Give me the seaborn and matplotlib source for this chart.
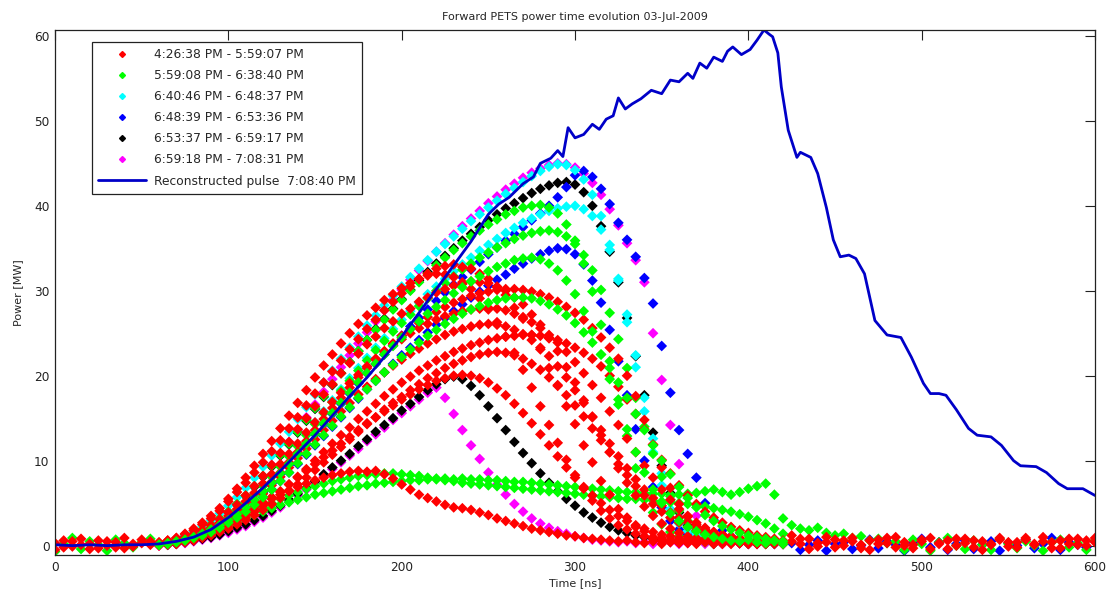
import numpy as np
import pandas as pd
import matplotlib
matplotlib.use("Agg")
import matplotlib.pyplot as plt
from matplotlib.lines import Line2D
import seaborn as sns

# legend labels and colours, one per acquisition period
labels = ["4:26:38 PM - 5:59:07 PM", "5:59:08 PM - 6:38:40 PM",
          "6:40:46 PM - 6:48:37 PM", "6:48:39 PM - 6:53:36 PM",
          "6:53:37 PM - 6:59:17 PM", "6:59:18 PM - 7:08:31 PM"]
colors = ["#ff0000", "#00ff00", "#00ffff", "#0000ff", "#000000", "#ff00ff"]
recon_label = "Reconstructed pulse  7:08:40 PM"

# sample times [ns]
t_pulse = np.arange(60, 425, 5)
t_head = np.arange(0, 60, 5)
t_tail = np.arange(425, 605, 5)

# --- red pulses (4:26 - 5:59) ---
red_1 = [0.4, 0.6, 0.9, 1.3, 1.8, 2.5, 3.2, 4.1, 5.2, 6.3,
         7.4, 8.6, 9.8, 11.1, 12.4, 13.8, 15.1, 16.5, 17.9, 19.2,
         20.5, 21.8, 23.1, 24.3, 25.5, 26.6, 27.7, 28.7, 29.7, 30.5,
         31.4, 32.0, 32.6, 32.9, 33.1, 32.8, 32.6, 32.0, 31.4, 30.4,
         29.5, 28.0, 26.7, 24.8, 23.1, 20.9, 18.9, 16.4, 14.3, 11.8,
         9.8, 7.6, 6.0, 4.3, 3.3, 2.2, 1.7, 1.0, 0.9, 0.5,
         0.7, 0.3, 0.6, 0.4, 0.5, 0.2, 0.6, 0.3, 0.4, 0.5,
         0.2, 0.4, 0.3]
red_2 = [0.2, 0.4, 0.6, 0.9, 1.3, 1.8, 2.4, 3.1, 3.9, 4.8,
         5.9, 7.0, 8.2, 9.5, 10.9, 12.2, 13.7, 15.0, 16.4, 17.8,
         19.0, 20.3, 21.5, 22.6, 23.7, 24.6, 25.6, 26.4, 27.3, 27.9,
         28.7, 29.2, 29.8, 30.2, 30.6, 30.8, 31.1, 31.0, 30.9, 30.5,
         30.0, 29.2, 28.4, 27.2, 26.0, 24.4, 22.9, 21.0, 19.2, 17.1,
         15.1, 13.0, 11.0, 9.1, 7.4, 5.9, 4.6, 3.5, 2.6, 2.0,
         1.5, 1.1, 0.9, 0.6, 0.7, 0.4, 0.5, 0.3, 0.6, 0.4,
         0.3, 0.5, 0.2]
red_3 = [0.1, 0.3, 0.5, 0.8, 1.1, 1.6, 2.1, 2.7, 3.5, 4.3,
         5.2, 6.2, 7.3, 8.4, 9.6, 10.8, 12.0, 13.3, 14.5, 15.7,
         16.9, 18.0, 19.1, 20.1, 21.1, 22.0, 22.8, 23.6, 24.3, 25.0,
         25.6, 26.1, 26.6, 27.0, 27.3, 27.6, 27.8, 27.9, 28.0, 27.9,
         27.7, 27.3, 26.9, 26.3, 25.6, 24.8, 23.9, 22.8, 21.6, 20.3,
         18.9, 17.4, 15.8, 14.2, 12.6, 11.0, 9.4, 8.0, 6.6, 5.4,
         4.3, 3.4, 2.7, 2.1, 1.6, 1.3, 1.0, 0.8, 0.6, 0.5,
         0.4, 0.6, 0.3]
red_4 = [0.0, 0.1, 0.2, 0.4, 0.6, 0.9, 1.2, 1.6, 2.0, 2.5,
         3.0, 3.6, 4.2, 4.9, 5.6, 6.4, 7.2, 8.0, 8.9, 9.8,
         10.7, 11.6, 12.5, 13.4, 14.3, 15.1, 16.0, 16.8, 17.5, 18.3,
         19.0, 19.7, 20.3, 20.9, 21.4, 21.8, 22.2, 22.5, 22.7, 22.8,
         22.7, 22.4, 22.0, 21.4, 20.7, 19.8, 18.8, 17.7, 16.5, 15.2,
         13.8, 12.4, 11.0, 9.6, 8.3, 7.0, 5.9, 4.9, 4.0, 3.3,
         2.7, 2.2, 1.8, 1.5, 1.2, 1.0, 0.8, 0.7, 0.5, 0.6,
         0.4, 0.3, 0.5]
red_5 = [0.2, 0.4, 0.7, 1.0, 1.3, 1.7, 2.1, 2.6, 3.1, 3.6,
         4.1, 4.6, 5.1, 5.6, 6.0, 6.5, 6.9, 7.3, 7.7, 8.0,
         8.3, 8.5, 8.7, 8.8, 8.7, 8.8, 8.4, 7.9, 7.2, 6.6,
         6.0, 5.6, 5.2, 4.8, 4.5, 4.4, 4.2, 3.9, 3.6, 3.2,
         2.9, 2.6, 2.3, 2.0, 1.8, 1.6, 1.4, 1.2, 1.1, 0.9,
         0.8, 0.7, 0.6, 0.5, 0.6, 0.4, 0.3, 0.5, 0.2, 0.4,
         0.3, 0.4, 0.2, 0.5, 0.3, 0.4, 0.2, 0.3, 0.5, 0.2,
         0.4, 0.3, 0.2]
red_6 = [0.1, 0.3, 0.5, 0.7, 1.0, 1.4, 1.9, 2.4, 3.0, 3.7,
         4.5, 5.4, 6.4, 7.5, 8.6, 9.8, 11.0, 12.3, 13.6, 14.9,
         16.2, 17.4, 18.6, 19.8, 20.9, 21.9, 22.9, 23.8, 24.7, 25.5,
         26.2, 26.9, 27.5, 28.1, 28.6, 29.0, 29.4, 29.7, 29.9, 30.1,
         30.2, 30.2, 30.1, 29.9, 29.6, 29.2, 28.7, 28.1, 27.4, 26.6,
         25.6, 24.5, 23.3, 22.0, 20.0, 17.6, 14.8, 11.9, 9.2, 6.8,
         4.9, 3.5, 2.5, 1.8, 1.3, 1.0, 0.8, 0.6, 0.5, 0.4,
         0.3, 0.5, 0.2]
red_7 = [0.3, 0.6, 0.9, 1.4, 2.0, 2.7, 3.5, 4.4, 5.5, 6.7,
         8.0, 9.4, 10.8, 12.3, 13.8, 15.3, 16.8, 18.3, 19.8, 21.2,
         22.5, 23.8, 25.0, 26.1, 27.1, 28.0, 28.9, 29.6, 30.3, 30.9,
         31.4, 31.8, 32.0, 31.9, 31.6, 31.0, 30.2, 29.1, 27.8, 26.3,
         24.6, 22.7, 20.7, 18.6, 16.4, 14.2, 12.1, 10.1, 8.3, 6.7,
         5.3, 4.1, 3.2, 2.4, 1.9, 1.4, 1.1, 0.8, 0.6, 0.7,
         0.4, 0.5, 0.3, 0.6, 0.2, 0.4, 0.5, 0.3, 0.2, 0.4,
         0.3, 0.2, 0.4]
red_8 = [0.1, 0.2, 0.4, 0.6, 0.9, 1.3, 1.7, 2.2, 2.8, 3.5,
         4.3, 5.2, 6.1, 7.1, 8.1, 9.2, 10.3, 11.4, 12.5, 13.6,
         14.7, 15.8, 16.8, 17.8, 18.7, 19.6, 20.4, 21.2, 21.9, 22.6,
         23.2, 23.8, 24.3, 24.8, 25.2, 25.5, 25.8, 26.0, 26.1, 26.0,
         25.8, 25.4, 24.9, 24.2, 23.3, 22.3, 21.1, 19.8, 18.3, 16.8,
         15.2, 13.6, 12.0, 10.5, 9.1, 7.8, 6.6, 5.6, 4.7, 3.9,
         3.3, 2.8, 2.3, 1.9, 1.6, 1.3, 1.1, 0.9, 0.7, 0.6,
         0.5, 0.4, 0.3]
red_9 = [0.1, 0.2, 0.3, 0.5, 0.7, 1.0, 1.3, 1.7, 2.2, 2.7,
         3.3, 4.0, 4.7, 5.5, 6.3, 7.2, 8.1, 9.0, 10.0, 11.0,
         12.0, 13.0, 13.9, 14.9, 15.8, 16.7, 17.6, 18.4, 19.2, 19.9,
         20.6, 21.2, 21.8, 22.3, 22.8, 23.2, 23.6, 23.9, 24.2, 24.4,
         24.6, 24.7, 24.8, 24.8, 24.7, 24.5, 24.2, 23.8, 23.3, 22.7,
         22.0, 21.1, 20.0, 18.7, 17.2, 15.5, 13.7, 11.9, 10.1, 8.5,
         7.1, 5.9, 4.9, 4.0, 3.3, 2.7, 2.2, 1.8, 1.5, 1.2,
         1.0, 0.8, 0.6]
red_10 = [0.2, 0.3, 0.5, 0.7, 1.0, 1.3, 1.7, 2.1, 2.6, 3.1,
          3.7, 4.3, 5.0, 5.7, 6.4, 7.2, 8.0, 8.8, 9.6, 10.4,
          11.2, 12.0, 12.8, 13.6, 14.4, 15.1, 15.8, 16.5, 17.2, 17.8,
          18.4, 18.9, 19.4, 19.7, 20.0, 20.1, 20.0, 19.7, 19.2, 18.5,
          17.7, 16.7, 15.6, 14.4, 13.1, 11.8, 10.5, 9.2, 8.0, 6.9,
          5.9, 5.0, 4.2, 3.5, 2.9, 2.4, 2.0, 1.6, 1.3, 1.1,
          0.9, 0.7, 0.6, 0.8, 0.4, 0.5, 0.3, 0.6, 0.4, 0.2,
          0.5, 0.3, 0.4]

# --- green pulses (5:59 - 6:38) ---
green_1 = [0.2, 0.4, 0.7, 1.0, 1.4, 1.9, 2.5, 3.2, 4.0, 4.9,
           5.9, 7.0, 8.2, 9.4, 10.7, 12.0, 13.4, 14.8, 16.2, 17.6,
           19.0, 20.3, 21.6, 22.9, 24.2, 25.4, 26.6, 27.8, 28.9, 30.0,
           31.0, 32.0, 33.0, 33.9, 34.8, 35.6, 36.4, 37.1, 37.8, 38.4,
           39.0, 39.4, 39.8, 40.0, 40.1, 39.8, 39.1, 37.8, 35.9, 33.2,
           29.9, 26.0, 21.7, 17.2, 12.9, 9.1, 6.1, 3.9, 2.5, 1.6,
           1.1, 0.8, 0.6, 0.4, 0.5, 0.3, 0.6, 0.4, 0.3, 0.5,
           0.2, 0.4, 0.3]
green_2 = [0.1, 0.3, 0.5, 0.7, 1.0, 1.4, 1.9, 2.4, 3.0, 3.7,
           4.5, 5.4, 6.4, 7.4, 8.5, 9.6, 10.8, 12.0, 13.2, 14.4,
           15.6, 16.8, 18.0, 19.2, 20.3, 21.4, 22.5, 23.5, 24.5, 25.5,
           26.4, 27.3, 28.1, 28.9, 29.7, 30.4, 31.1, 31.7, 32.3, 32.8,
           33.2, 33.6, 33.8, 33.9, 33.7, 33.2, 32.4, 31.2, 29.6, 27.6,
           25.2, 22.5, 19.6, 16.6, 13.7, 11.0, 8.6, 6.6, 5.0, 3.8,
           2.9, 2.2, 1.7, 1.3, 1.0, 0.8, 0.6, 0.5, 0.7, 0.4,
           0.3, 0.5, 0.2]
green_3 = [0.2, 0.3, 0.5, 0.7, 1.0, 1.3, 1.6, 2.0, 2.4, 2.8,
           3.2, 3.6, 4.0, 4.4, 4.8, 5.1, 5.4, 5.7, 6.0, 6.2,
           6.4, 6.6, 6.8, 7.0, 7.1, 7.3, 7.4, 7.5, 7.6, 7.7,
           7.7, 7.8, 7.8, 7.9, 7.8, 7.9, 7.8, 7.8, 7.7, 7.7,
           7.6, 7.5, 7.5, 7.4, 7.3, 7.2, 7.1, 7.0, 6.9, 6.8,
           6.7, 6.6, 6.5, 6.4, 6.3, 6.3, 6.2, 6.1, 6.1, 6.0,
           6.0, 6.1, 6.2, 6.4, 6.6, 6.3, 6.0, 6.3, 6.7, 7.0,
           7.3, 6.0, 3.2]
green_4 = [0.1, 0.2, 0.4, 0.6, 0.9, 1.2, 1.6, 2.0, 2.5, 3.0,
           3.5, 4.0, 4.5, 5.0, 5.5, 5.9, 6.3, 6.7, 7.0, 7.3,
           7.6, 7.8, 8.0, 8.2, 8.3, 8.4, 8.5, 8.5, 8.4, 8.3,
           8.2, 8.0, 7.9, 7.7, 7.6, 7.4, 7.3, 7.2, 7.1, 7.0,
           6.9, 6.8, 6.7, 6.6, 6.5, 6.4, 6.3, 6.2, 6.1, 6.0,
           5.9, 5.8, 5.7, 5.6, 5.5, 5.5, 5.4, 5.3, 5.2, 5.1,
           5.0, 4.9, 4.8, 4.6, 4.4, 4.2, 4.0, 3.7, 3.4, 3.0,
           2.6, 2.0, 1.4]
green_5 = [0.2, 0.3, 0.5, 0.8, 1.1, 1.5, 2.0, 2.6, 3.3, 4.1,
           5.0, 6.0, 7.0, 8.1, 9.3, 10.5, 11.7, 13.0, 14.3, 15.6,
           16.9, 18.2, 19.4, 20.6, 21.8, 23.0, 24.1, 25.2, 26.2, 27.2,
           28.2, 29.1, 30.0, 30.9, 31.7, 32.5, 33.2, 33.9, 34.5, 35.1,
           35.6, 36.1, 36.5, 36.8, 37.0, 37.1, 36.9, 36.4, 35.5, 34.2,
           32.4, 30.1, 27.4, 24.3, 20.9, 17.4, 14.0, 10.8, 8.1, 5.8,
           4.1, 2.9, 2.0, 1.5, 1.1, 0.9, 0.7, 0.5, 0.6, 0.4,
           0.3, 0.5, 0.2]
green_6 = [0.1, 0.2, 0.4, 0.6, 0.9, 1.2, 1.6, 2.1, 2.7, 3.3,
           4.0, 4.8, 5.7, 6.6, 7.6, 8.6, 9.7, 10.8, 11.9, 13.0,
           14.1, 15.2, 16.3, 17.4, 18.4, 19.4, 20.4, 21.3, 22.2, 23.1,
           23.9, 24.7, 25.4, 26.1, 26.7, 27.3, 27.8, 28.2, 28.6, 28.9,
           29.1, 29.2, 29.2, 29.1, 28.8, 28.4, 27.8, 27.1, 26.2, 25.1,
           23.9, 22.5, 20.9, 19.2, 17.4, 15.5, 13.6, 11.8, 10.0, 8.4,
           6.9, 5.6, 4.5, 3.6, 2.9, 2.3, 1.9, 1.5, 1.2, 1.0,
           0.8, 0.6, 0.5]

# --- cyan pulses (6:40 - 6:48) ---
cyan_1 = [0.3, 0.5, 0.8, 1.2, 1.7, 2.3, 3.0, 3.8, 4.7, 5.7,
          6.8, 8.0, 9.3, 10.6, 12.0, 13.4, 14.9, 16.3, 17.8, 19.2,
          20.6, 22.0, 23.3, 24.6, 25.9, 27.1, 28.3, 29.4, 30.5, 31.6,
          32.6, 33.6, 34.6, 35.5, 36.4, 37.3, 38.2, 39.0, 39.8, 40.6,
          41.4, 42.1, 42.8, 43.5, 44.1, 44.6, 44.9, 44.8, 44.2, 43.1,
          41.3, 38.8, 35.4, 31.2, 26.3, 21.0, 15.8, 11.0, 7.1, 4.3,
          2.6, 1.7, 1.2, 0.9, 0.7, 0.5, 0.6, 0.4, 0.3, 0.5,
          0.4, 0.2, 0.3]
cyan_2 = [0.2, 0.3, 0.5, 0.8, 1.1, 1.5, 2.0, 2.6, 3.3, 4.1,
          5.0, 6.0, 7.1, 8.2, 9.4, 10.6, 11.9, 13.2, 14.5, 15.8,
          17.1, 18.4, 19.7, 20.9, 22.1, 23.3, 24.4, 25.5, 26.6, 27.6,
          28.6, 29.6, 30.5, 31.4, 32.3, 33.1, 33.9, 34.7, 35.4, 36.1,
          36.8, 37.4, 38.0, 38.5, 39.0, 39.4, 39.7, 39.9, 40.0, 39.6,
          38.8, 37.2, 34.8, 31.4, 27.2, 22.4, 17.4, 12.6, 8.5, 5.4,
          3.3, 2.1, 1.4, 1.0, 0.8, 0.6, 0.5, 0.7, 0.4, 0.3,
          0.5, 0.3, 0.2]

# --- blue pulses (6:48 - 6:53) ---
blue_1 = [0.2, 0.3, 0.5, 0.7, 1.0, 1.4, 1.8, 2.3, 2.9, 3.6,
          4.4, 5.3, 6.3, 7.3, 8.4, 9.5, 10.7, 11.9, 13.1, 14.3,
          15.5, 16.7, 17.9, 19.1, 20.3, 21.4, 22.5, 23.6, 24.7, 25.8,
          26.8, 27.8, 28.8, 29.8, 30.7, 31.6, 32.5, 33.4, 34.3, 35.1,
          35.9, 36.7, 37.5, 38.3, 39.1, 40.0, 41.0, 42.2, 43.6, 44.1,
          43.4, 42.0, 40.2, 38.0, 36.0, 34.0, 31.5, 28.5, 23.5, 18.0,
          13.6, 10.8, 8.0, 5.0, 3.0, 1.8, 1.1, 0.8, 0.5, 0.6,
          0.3, 0.4, 0.2]
blue_2 = [0.1, 0.2, 0.4, 0.6, 0.9, 1.2, 1.6, 2.1, 2.7, 3.3,
          4.0, 4.8, 5.7, 6.6, 7.6, 8.6, 9.6, 10.7, 11.8, 12.9,
          14.0, 15.1, 16.2, 17.3, 18.4, 19.4, 20.4, 21.4, 22.4, 23.3,
          24.2, 25.1, 26.0, 26.8, 27.6, 28.4, 29.2, 29.9, 30.6, 31.3,
          31.9, 32.6, 33.2, 33.8, 34.3, 34.7, 35.0, 34.9, 34.3, 33.1,
          31.2, 28.6, 25.4, 21.7, 17.7, 13.7, 10.0, 6.9, 4.5, 2.9,
          1.9, 1.3, 0.9, 0.7, 0.5, 0.4, 0.6, 0.3, 0.5, 0.2,
          0.4, 0.3, 0.2]

# --- black pulses (6:53 - 6:59) ---
black_1 = [0.2, 0.4, 0.6, 0.9, 1.3, 1.8, 2.4, 3.1, 3.9, 4.8,
           5.8, 6.9, 8.1, 9.3, 10.6, 11.9, 13.3, 14.7, 16.1, 17.5,
           18.9, 20.3, 21.6, 22.9, 24.2, 25.5, 26.7, 27.9, 29.0, 30.1,
           31.2, 32.2, 33.2, 34.1, 35.0, 35.9, 36.7, 37.5, 38.3, 39.0,
           39.7, 40.3, 40.9, 41.5, 42.0, 42.4, 42.7, 42.8, 42.5, 41.6,
           40.0, 37.6, 34.6, 31.0, 26.8, 22.3, 17.7, 13.3, 9.4, 6.2,
           3.9, 2.4, 1.5, 1.0, 0.7, 0.5, 0.6, 0.3, 0.4, 0.5,
           0.2, 0.4, 0.3]
black_2 = [0.1, 0.1, 0.2, 0.4, 0.6, 0.8, 1.0, 1.3, 1.7, 2.1,
           2.5, 3.0, 3.5, 4.1, 4.7, 5.4, 6.1, 6.8, 7.6, 8.4,
           9.2, 10.0, 10.8, 11.7, 12.5, 13.4, 14.2, 15.0, 15.9, 16.7,
           17.5, 18.3, 19.0, 19.6, 19.9, 19.6, 18.8, 17.7, 16.4, 15.0,
           13.6, 12.2, 10.9, 9.7, 8.5, 7.4, 6.4, 5.5, 4.7, 3.9,
           3.3, 2.7, 2.2, 1.8, 1.5, 1.2, 1.0, 0.8, 0.6, 0.5,
           0.4, 0.6, 0.3, 0.5, 0.2, 0.4, 0.3, 0.5, 0.2, 0.3,
           0.4, 0.2, 0.3]

# --- magenta pulses (6:59 - 7:08) ---
magenta_1 = [0.3, 0.5, 0.7, 1.0, 1.4, 1.9, 2.5, 3.2, 4.0, 4.9,
             5.9, 7.0, 8.2, 9.5, 10.8, 12.2, 13.6, 15.1, 16.6, 18.1,
             19.6, 21.0, 22.4, 23.8, 25.1, 26.4, 27.7, 28.9, 30.1, 31.3,
             32.4, 33.5, 34.6, 35.6, 36.6, 37.6, 38.5, 39.4, 40.3, 41.1,
             41.9, 42.6, 43.3, 43.9, 44.4, 44.8, 45.0, 44.9, 44.5, 43.8,
             42.7, 41.3, 39.6, 37.7, 35.6, 33.6, 31.0, 25.0, 19.5, 14.2,
             9.6, 6.0, 3.5, 2.0, 1.2, 0.8, 0.6, 0.4, 0.5, 0.3,
             0.4, 0.2, 0.3]
magenta_2 = [0.0, 0.1, 0.2, 0.3, 0.5, 0.7, 0.9, 1.2, 1.5, 1.9,
             2.3, 2.8, 3.3, 3.9, 4.5, 5.2, 5.9, 6.6, 7.4, 8.2,
             9.0, 9.8, 10.6, 11.4, 12.3, 13.1, 13.9, 14.8, 15.6, 16.4,
             17.2, 18.0, 18.6, 17.4, 15.5, 13.6, 11.8, 10.2, 8.6, 7.2,
             6.0, 4.9, 4.0, 3.2, 2.6, 2.1, 1.7, 1.4, 1.1, 0.9,
             0.7, 0.6, 0.5, 0.4, 0.5, 0.3, 0.4, 0.2, 0.3, 0.4,
             0.2, 0.3, 0.4, 0.2, 0.3, 0.2, 0.4, 0.3, 0.2, 0.3,
             0.2, 0.3, 0.2]

# baseline noise before and after the pulses
red_head_a = [0.3, -0.2, 0.5, 0.1, -0.4, 0.6, 0.0, 0.4, -0.3, 0.2, 0.7, 0.1]
red_head_b = [-0.5, 0.6, -0.1, 0.8, 0.2, -0.3, 0.5, -0.2, 0.9, -0.1, 0.3, 0.5]
green_head = [-0.7, 0.2, 0.9, -0.4, 0.5, 0.1, -0.6, 0.7, 0.3, -0.2, 0.4, 0.8]
red_tail_a = [0.5, 0.2, 0.8, -0.1, 0.4, 0.7, 0.0, 0.5, -0.3, 0.6, 0.2, 0.9,
              -0.2, 0.4, 0.1, 0.7, -0.4, 0.3, 0.6, 0.0, 0.8, -0.2, 0.5, 0.2,
              0.7, -0.1, 0.4, 0.9, 0.1, 0.5, -0.3, 0.6, 0.2, 0.8, 0.0, 0.4]
red_tail_b = [1.2, 0.8, -0.4, 0.3, 1.0, -0.2, 0.6, 0.9, 0.1, -0.5, 0.7, 0.3,
              1.0, 0.0, -0.3, 0.5, 0.9, 0.2, -0.4, 0.8, 0.3, 0.6, -0.5, 0.1,
              0.9, 0.4, -0.2, 0.7, 0.2, 1.0, 0.4, -0.3, 0.8, 0.1, 0.6, 0.9]
green_tail = [2.4, 2.0, 1.8, 2.1, 1.5, 1.2, 1.4, 0.9, 1.1, 0.6, 0.8, 0.3,
              0.5, -0.5, 0.7, 0.2, -0.6, 0.4, 0.9, 0.0, -0.4, 0.6, 0.1, -0.5,
              0.8, 0.2, -0.3, 0.5, 0.0, -0.6, 0.4, 0.7, -0.2, 0.3, -0.5, 0.6]
blue_tail = [0.3, -0.5, 0.1, 0.6, -0.6, 0.2, 0.4, -0.4, 0.0, 0.7, -0.3, 0.5,
             0.1, -0.6, 0.3, 0.8, -0.2, 0.4, -0.5, 0.2, 0.6, -0.4, 0.1, 0.5,
             -0.6, 0.3, 0.0, 0.7, -0.3, 0.2, 0.9, -0.5, 0.4, 0.1, -0.2, 0.5]

# reconstructed pulse
recon_t = [0, 10, 20, 30, 40, 50, 60, 70, 80, 90,
           100, 110, 120, 130, 140, 150, 160, 170, 180, 190, 200, 210, 220, 230, 240, 250,
           256, 262, 270, 276, 280, 286, 290, 293, 296, 300,
           305, 310, 314, 318, 322, 325, 329, 333, 338, 344,
           350, 355, 360, 365, 368, 372, 376, 380, 385, 388,
           391, 396, 401, 405, 409, 412, 414, 417, 419, 423,
           428, 430, 436, 440, 445, 449, 453, 458, 462, 467,
           473, 480, 488, 494, 501, 505, 510, 514, 520, 527,
           532, 540, 546, 553, 557, 566, 572, 579, 584, 593, 600]
recon_p = [0.1, 0.0, 0.1, 0.0, 0.1, 0.1, 0.2, 0.5, 1.0, 1.9,
           3.3, 5.0, 6.8, 8.8, 10.9, 13.0, 15.3, 17.6, 19.8, 22.2, 24.6, 27.4, 30.2, 33.0, 35.8, 39.0,
           40.2, 41.0, 42.6, 43.4, 45.0, 45.6, 46.5, 45.8, 49.2, 48.0,
           48.4, 49.6, 49.0, 50.2, 50.6, 52.7, 51.4, 52.0, 52.6, 53.6,
           53.2, 54.8, 54.6, 55.6, 55.0, 56.8, 56.2, 57.5, 57.0, 58.2,
           58.7, 57.8, 58.4, 59.5, 60.7, 60.2, 59.9, 58.0, 54.0, 48.9,
           45.7, 46.3, 45.7, 43.8, 39.8, 36.0, 34.0, 34.2, 33.8, 32.0,
           26.5, 24.8, 24.5, 22.2, 19.1, 17.9, 17.9, 17.7, 16.0, 13.8,
           13.0, 12.8, 11.8, 10.0, 9.4, 9.3, 8.6, 7.3, 6.7, 6.7, 5.9]

# (label index, times, values) in drawing order
traces = [
    (5, t_pulse, magenta_1), (5, t_pulse, magenta_2),
    (4, t_pulse, black_1), (4, t_pulse, black_2),
    (3, t_pulse, blue_1), (3, t_pulse, blue_2), (3, t_tail, blue_tail),
    (2, t_pulse, cyan_1), (2, t_pulse, cyan_2),
    (1, t_pulse, green_1), (1, t_pulse, green_3), (1, t_pulse, green_4),
    (1, t_pulse, green_5), (1, t_head, green_head), (1, t_tail, green_tail),
    (0, t_pulse, red_1), (0, t_pulse, red_2), (0, t_pulse, red_3),
    (0, t_pulse, red_4), (0, t_pulse, red_5), (0, t_pulse, red_6),
    (0, t_pulse, red_7), (0, t_pulse, red_8), (0, t_pulse, red_9),
    (0, t_pulse, red_10),
    (0, t_head, red_head_a), (0, t_head, red_head_b),
    (0, t_tail, red_tail_a), (0, t_tail, red_tail_b),
    (1, t_pulse, green_2), (1, t_pulse, green_6),
]

frames = []
for idx, t, p in traces:
    frames.append(pd.DataFrame({"time": t, "power": p, "group": labels[idx]}))
df = pd.concat(frames, ignore_index=True)

sns.set_theme(style="white")
plt.rcParams["font.family"] = ["DejaVu Sans"]

fig = plt.figure(figsize=(11.07, 5.97), dpi=100)
ax = fig.add_axes([0.0497, 0.0704, 0.9395, 0.8794])

palette = dict(zip(labels, colors))
sns.scatterplot(data=df, x="time", y="power", hue="group", palette=palette,
                marker="D", s=30, linewidth=0, legend=False, ax=ax)
sns.lineplot(x=recon_t, y=recon_p, sort=False, estimator=None,
             color="#0000c8", linewidth=2, ax=ax)

ax.set_xlim(0, 600)
ax.set_ylim(-1.1, 60.7)
ax.set_xticks(range(0, 601, 100))
ax.set_yticks(range(0, 61, 10))
ax.tick_params(direction="in", length=7, width=0.8, top=True, right=True,
               labelsize=8.7, colors="#222222", pad=4)
for sp in ax.spines.values():
    sp.set_color("#222222")
    sp.set_linewidth(0.9)

ax.set_xlabel("Time [ns]", fontsize=8, labelpad=3)
ax.set_ylabel("Power [MW]", fontsize=8, labelpad=8)
ax.set_title("Forward PETS power time evolution 03-Jul-2009", fontsize=8, pad=7)

handles = [Line2D([], [], linestyle="none", marker="D", markersize=3,
                  markerfacecolor=c, markeredgecolor=c) for c in colors]
handles.append(Line2D([], [], color="#0000c8", linewidth=2))
leg = ax.legend(handles, labels + [recon_label], loc="upper left",
                bbox_to_anchor=(0.0356, 0.977), fontsize=8.8,
                handlelength=3.9, handletextpad=0.7, labelspacing=0.66,
                borderpad=0.5, borderaxespad=0, fancybox=False,
                framealpha=1, edgecolor="#222222")
leg.get_frame().set_linewidth(0.9)

fig.savefig("out.png", dpi=100)
